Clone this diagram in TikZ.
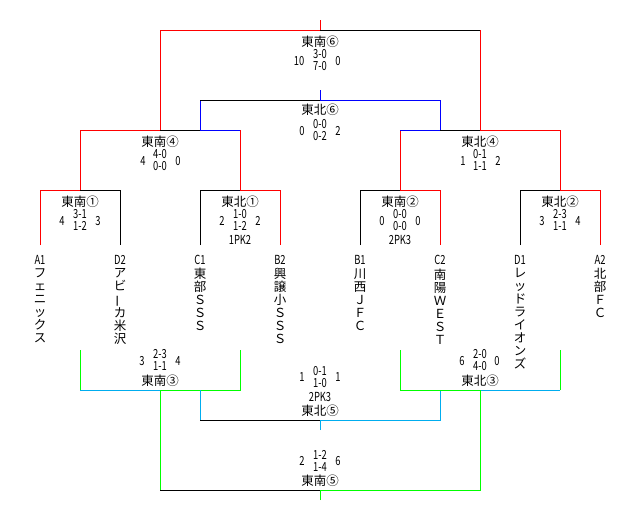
\documentclass[tikz,border=0pt]{standalone}
\usepackage{fontspec}
\setmainfont{Noto Sans CJK JP}
\newfontfamily\numfont[FakeStretch=0.75]{Noto Sans CJK JP}
\usepackage{tikz}
\usetikzlibrary{positioning}

\begin{document}
\begin{tikzpicture}[x=1pt, y=-1pt, line width=1pt,
	win/.style={red}, lose/.style={blue}, grn/.style={green}, cyn/.style={cyan},
	title/.style={font=\fontsize{12.5}{12}\selectfont},
	score/.style={font=\numfont\fontsize{12.5}{12}\selectfont, align=center},
	num/.style={font=\numfont\fontsize{12.5}{12}\selectfont},
	team/.style={font=\fontsize{12.5}{13}\selectfont, align=center, anchor=north}]
	\tikzstyle{every node} = [inner sep=0pt]
\useasboundingbox (0, 0) rectangle (640, 520);
\coordinate (a1) at (40, 245);
\coordinate (d2) at (120, 245);
\coordinate (c1) at (200, 245);
\coordinate (b2) at (280, 245);
\coordinate (b1) at (360, 245);
\coordinate (c2) at (440, 245);
\coordinate (d1) at (520, 245);
\coordinate (a2) at (600, 245);
\coordinate (m1) at (80, 190);
\coordinate (m2) at (240, 190);
\coordinate (m3) at (400, 190);
\coordinate (m4) at (560, 190);
\coordinate (s1) at (160, 130);
\coordinate (s2) at (480, 130);
\coordinate (l1) at (200, 130);
\coordinate (l2) at (440, 130);
\coordinate (lb) at (240, 130);
\coordinate (rb) at (400, 130);
\coordinate (t) at (320, 100);
\coordinate (ts) at (320, 90);
\coordinate (tl) at (200, 100);
\coordinate (tr) at (440, 100);
\coordinate (f) at (320, 30);
\coordinate (fs) at (320, 20);
\coordinate (fr) at (480, 30);
	\draw[win] (a1) |- (m1);
	\draw (m1) -| (d2);
	\draw (c1) |- (m2);
	\draw[win] (m2) -| (b2);
	\draw (b1) |- (m3);
	\draw[win] (m3) -| (c2);
	\draw (d1) |- (m4);
	\draw[win] (m4) -| (a2);
	\draw[win] (m1) |- (s1);
	\draw (s1) -- (l1);
	\draw[lose] (tl) -- (l1) -- (lb);
	\draw[win] (lb) -- (m2);
	\draw (tl) -- (t);
	\draw[win] (m3) -- (rb);
	\draw[lose] (rb) -- (l2) -- (tr) -- (t) -- (ts);
	\draw (l2) -- (s2);
	\draw[win] (s2) -| (m4);
	\draw[win] (s1) |- (f) -- (fs);
	\draw (f) -- (fr);
	\draw[win] (fr) -- (s2);
\coordinate (e1) at (80, 350);
\coordinate (e2) at (240, 350);
\coordinate (e3) at (400, 350);
\coordinate (e4) at (560, 350);
\coordinate (q1) at (80, 390);
\coordinate (q2) at (240, 390);
\coordinate (q4) at (560, 390);
\coordinate (n1) at (160, 390);
\coordinate (n2) at (480, 390);
\coordinate (k1) at (200, 390);
\coordinate (k2) at (440, 390);
\coordinate (u) at (320, 420);
\coordinate (us) at (320, 430);
\coordinate (ul) at (200, 420);
\coordinate (ur) at (440, 420);
\coordinate (g) at (320, 490);
\coordinate (gs) at (320, 500);
\coordinate (gl) at (160, 490);
\coordinate (gr) at (480, 490);
	\draw[grn] (e1) -- (q1);
	\draw[cyn] (q1) -- (n1);
	\draw[grn] (n1) -- (q2) -- (e2);
	\draw[cyn] (k1) -- (ul);
	\draw (ul) -- (u);
	\draw[cyn] (us) -- (u) -- (ur) -- (k2);
	\draw[grn] (e3) |- (n2);
	\draw[cyn] (n2) -- (q4);
	\draw[grn] (q4) -- (e4);
	\draw[grn] (n1) -- (gl);
	\draw (gl) -- (g);
	\draw[grn] (gs) -- (g) -- (gr) -- (n2);
\node[title] (ts6) at (320, 42) {東南⑥};
\node[score] (ss6) at (320, 60) {3-0\\7-0};
\node[num] (ls6) at (299, 61) {10};
\node[num] (rs6) at (338, 61) {0};
\node[title] (tn6) at (320, 110) {東北⑥};
\node[score] (sn6) at (320, 130) {0-0\\0-2};
\node[num] (ln6) at (302, 131) {0};
\node[num] (rn6) at (338, 131) {2};
\node[title] (ts4) at (160, 142) {東南④};
\node[score] (ss4) at (160, 160) {4-0\\0-0};
\node[num] (ls4) at (143, 161) {4};
\node[num] (rs4) at (178, 161) {0};
\node[title] (tn4) at (480, 142) {東北④};
\node[score] (sn4) at (480, 160) {0-1\\1-1};
\node[num] (ln4) at (463, 161) {1};
\node[num] (rn4) at (498, 161) {2};
\node[title] (ts1) at (80, 202) {東南①};
\node[score] (ss1) at (80, 220) {3-1\\1-2};
\node[num] (ls1) at (62, 221) {4};
\node[num] (rs1) at (98, 221) {3};
\node[title] (tn1) at (240, 202) {東北①};
\node[score] (sn1) at (240, 220) {1-0\\1-2};
\node[num] (ln1) at (222, 221) {2};
\node[num] (rn1) at (258, 221) {2};
\node[num] (pn1) at (240, 240) {1PK2};
\node[title] (ts2) at (400, 202) {東南②};
\node[score] (ss2) at (400, 220) {0-0\\0-0};
\node[num] (ls2) at (382, 221) {0};
\node[num] (rs2) at (418, 221) {0};
\node[num] (ps2) at (400, 240) {2PK3};
\node[title] (tn2) at (560, 202) {東北②};
\node[score] (sn2) at (560, 220) {2-3\\1-1};
\node[num] (ln2) at (542, 221) {3};
\node[num] (rn2) at (578, 221) {4};
\node[num] (A1) at (40, 260) {A1};
\node[num] (D2) at (120, 260) {D2};
\node[num] (C1) at (200, 260) {C1};
\node[num] (B2) at (280, 260) {B2};
\node[num] (B1) at (360, 260) {B1};
\node[num] (C2) at (440, 260) {C2};
\node[num] (D1) at (520, 260) {D1};
\node[num] (A2) at (600, 260) {A2};
\node[team] (nA1) at (40, 268) {フ\\ェ\\ニ\\ッ\\ク\\ス};
\node[team] (nD2) at (120, 268) {ア\\ビ\\\rotatebox[origin=c]{90}{ー}\\カ\\米\\沢};
\node[team] (nC1) at (200, 268) {東\\部\\Ｓ\\Ｓ\\Ｓ};
\node[team] (nB2) at (280, 268) {興\\譲\\小\\Ｓ\\Ｓ\\Ｓ};
\node[team] (nB1) at (360, 268) {川\\西\\Ｊ\\Ｆ\\Ｃ};
\node[team] (nC2) at (440, 268) {南\\陽\\Ｗ\\Ｅ\\Ｓ\\Ｔ};
\node[team] (nD1) at (520, 268) {レ\\ッ\\ド\\ラ\\イ\\オ\\ン\\ズ};
\node[team] (nA2) at (600, 268) {北\\部\\Ｆ\\Ｃ};
\node[score] (ss3) at (160, 360) {2-3\\1-1};
\node[num] (ls3) at (142, 361) {3};
\node[num] (rs3) at (178, 361) {4};
\node[title] (ts3) at (160, 381) {東南③};
\node[score] (sn3) at (480, 360) {2-0\\4-0};
\node[num] (ln3) at (462, 361) {6};
\node[num] (rn3) at (497, 361) {0};
\node[title] (tn3) at (480, 381) {東北③};
\node[score] (sn5) at (320, 377) {0-1\\1-0};
\node[num] (ln5) at (302, 377) {1};
\node[num] (rn5) at (338, 377) {1};
\node[num] (pn5) at (320, 397) {2PK3};
\node[title] (tn5) at (320, 411) {東北⑤};
\node[score] (ss5) at (320, 461) {1-2\\1-4};
\node[num] (ls5) at (302, 461) {2};
\node[num] (rs5) at (338, 461) {6};
\node[title] (ts5) at (320, 481) {東南⑤};
	\end{tikzpicture}
\end{document}
